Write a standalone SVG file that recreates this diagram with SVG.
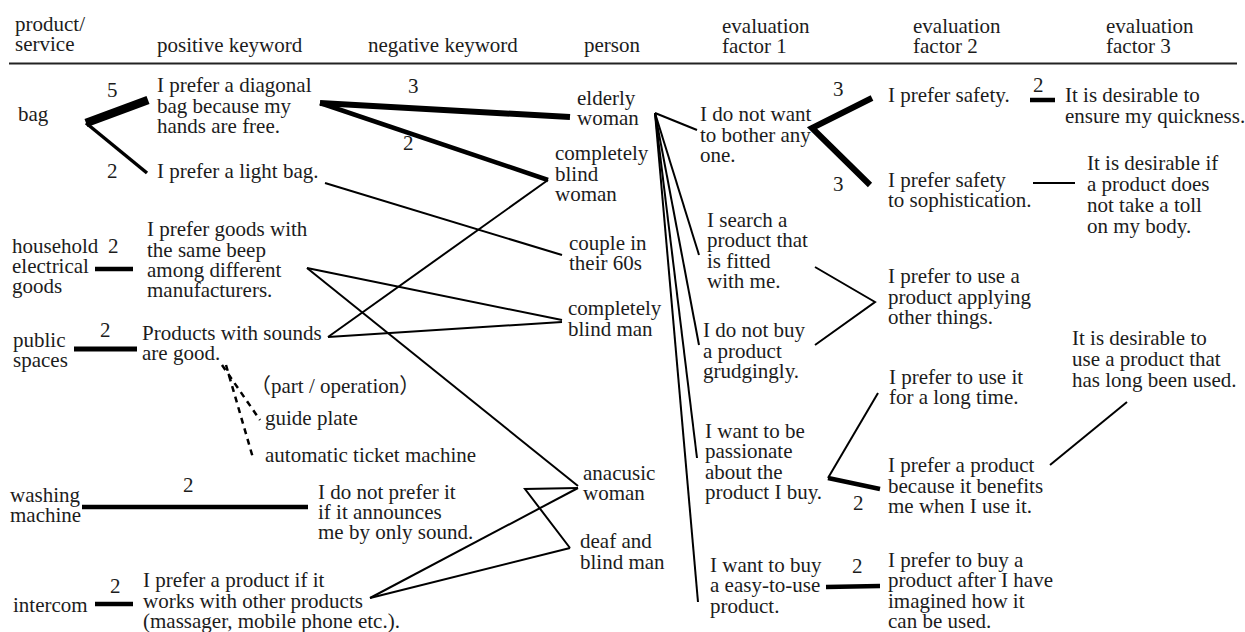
<svg xmlns="http://www.w3.org/2000/svg" width="1245" height="632" viewBox="0 0 1245 632" font-family="'Liberation Serif', serif" font-size="21">
<style>
text{font-family:'Liberation Serif',serif;font-size:21px;fill:#1c1c1c}
.cjk{font-family:'Liberation Serif','Noto Sans CJK JP',serif}
.c line,.c polyline{stroke:#000;fill:none;stroke-linecap:butt;stroke-linejoin:miter}
.w1{stroke-width:2}
.w2{stroke-width:4.5}
.w3{stroke-width:6}
.w5{stroke-width:8.5}
.d{stroke-width:2.5;stroke-dasharray:6 5}
</style>
<rect width="1245" height="632" fill="#fff"/>
<g id="header">
<text x="15" y="31">product/</text><text x="15" y="51">service</text>
<text x="157" y="52">positive keyword</text>
<text x="368" y="52">negative keyword</text>
<text x="584" y="52">person</text>
<text x="722" y="33">evaluation</text><text x="722" y="53">factor 1</text>
<text x="913" y="33">evaluation</text><text x="913" y="53">factor 2</text>
<text x="1106" y="33">evaluation</text><text x="1106" y="53">factor 3</text>
<line x1="9" y1="63.5" x2="1237" y2="63.5" stroke="#222" stroke-width="2.2"/>
</g>
<g class="c" id="connectors">
<line class="w5" x1="86" y1="123" x2="148" y2="100"/>
<line class="w2" x1="86" y1="123" x2="147" y2="173" style="stroke-width:3.5"/>
<line class="w3" x1="320" y1="103" x2="570" y2="117"/>
<line class="w2" x1="320" y1="103" x2="548" y2="180"/>
<line class="w1" x1="325" y1="183" x2="562" y2="255"/>
<line class="w2" x1="95" y1="269" x2="133" y2="269"/>
<line class="w1" x1="307" y1="268" x2="562" y2="320"/>
<line class="w1" x1="307" y1="268" x2="578" y2="486"/>
<line class="w2" x1="74" y1="349" x2="137" y2="349" style="stroke-width:5"/>
<line class="w1" x1="328" y1="337" x2="548" y2="180"/>
<line class="w1" x1="328" y1="337" x2="562" y2="322"/>
<line class="d" x1="222" y1="365" x2="260" y2="420"/>
<line class="d" x1="226" y1="365" x2="253" y2="458"/>
<line class="w2" x1="82" y1="507" x2="308" y2="507"/>
<polyline class="w1" points="578,488 525,489 570,548"/>
<line class="w1" x1="370" y1="598" x2="578" y2="488"/>
<line class="w1" x1="370" y1="598" x2="570" y2="548"/>
<line class="w2" x1="95" y1="604" x2="133" y2="604"/>
<line class="w1" x1="655" y1="113" x2="697" y2="130"/>
<line class="w1" x1="655" y1="113" x2="699" y2="255"/>
<line class="w1" x1="655" y1="113" x2="699" y2="345"/>
<line class="w1" x1="655" y1="113" x2="697" y2="458"/>
<line class="w1" x1="655" y1="113" x2="698" y2="602"/>
<polyline class="w3" points="872,98 812,128 870,185"/>
<line class="w2" x1="1030" y1="100" x2="1055" y2="100"/>
<line class="w1" x1="1033" y1="183" x2="1075" y2="183"/>
<polyline class="w1" points="815,267 875,302 815,345"/>
<line class="w1" x1="878" y1="393" x2="828" y2="478"/>
<line class="w2" x1="828" y1="478" x2="880" y2="489"/>
<line class="w1" x1="1050" y1="465" x2="1127" y2="402"/>
<line class="w2" x1="826" y1="587" x2="880" y2="586"/>
</g>
<g id="labels">
<text x="107" y="97">5</text>
<text x="107" y="178">2</text>
<text x="408" y="93">3</text>
<text x="403" y="150">2</text>
<text x="108" y="253">2</text>
<text x="100" y="337">2</text>
<text x="183" y="492">2</text>
<text x="110" y="593">2</text>
<text x="833" y="96">3</text>
<text x="833" y="191">3</text>
<text x="1033" y="92">2</text>
<text x="853" y="510">2</text>
<text x="852" y="573">2</text>
</g>
<g id="n-bag"><text x="18" y="121">bag</text></g>
<g id="n-household"><text x="12" y="253">household</text><text x="12" y="273">electrical</text><text x="12" y="293">goods</text></g>
<g id="n-public"><text x="13" y="347">public</text><text x="13" y="367">spaces</text></g>
<g id="n-washing"><text x="10" y="502">washing</text><text x="10" y="522">machine</text></g>
<g id="n-intercom"><text x="13" y="612">intercom</text></g>
<g id="n-diagonal"><text x="157" y="92">I prefer a diagonal</text><text x="157" y="113">bag because my</text><text x="157" y="133">hands are free.</text></g>
<g id="n-light"><text x="157" y="178">I prefer a light bag.</text></g>
<g id="n-beep"><text x="147" y="236">I prefer goods with</text><text x="147" y="257">the same beep</text><text x="147" y="277">among different</text><text x="147" y="297">manufacturers.</text></g>
<g id="n-sounds"><text x="142" y="340">Products with sounds</text><text x="142" y="360">are good.</text></g>
<g id="n-part"><text class="cjk" x="250" y="393">（part / operation）</text></g>
<g id="n-guide"><text x="265" y="425">guide plate</text></g>
<g id="n-ticket"><text x="265" y="462">automatic ticket machine</text></g>
<g id="n-notprefer"><text x="318" y="499">I do not prefer it</text><text x="318" y="519">if it announces</text><text x="318" y="539">me by only sound.</text></g>
<g id="n-works"><text x="143" y="587">I prefer a product if it</text><text x="143" y="608">works with other products</text><text x="143" y="628">(massager, mobile phone etc.).</text></g>
<g id="n-elderly"><text x="577" y="105">elderly</text><text x="577" y="125">woman</text></g>
<g id="n-cbw"><text x="555" y="160">completely</text><text x="555" y="181">blind</text><text x="555" y="201">woman</text></g>
<g id="n-couple"><text x="569" y="250">couple in</text><text x="569" y="270">their 60s</text></g>
<g id="n-cbm"><text x="568" y="315">completely</text><text x="568" y="336">blind man</text></g>
<g id="n-anacusic"><text x="583" y="480">anacusic</text><text x="583" y="500">woman</text></g>
<g id="n-deaf"><text x="580" y="548">deaf and</text><text x="580" y="569">blind man</text></g>
<g id="n-bother"><text x="700" y="121">I do not want</text><text x="700" y="141.5">to bother any</text><text x="700" y="162">one.</text></g>
<g id="n-search"><text x="707" y="227">I search a</text><text x="707" y="247">product that</text><text x="707" y="268">is fitted</text><text x="707" y="288">with me.</text></g>
<g id="n-grudg"><text x="703" y="337">I do not buy</text><text x="703" y="358">a product</text><text x="703" y="378">grudgingly.</text></g>
<g id="n-passion"><text x="705" y="438">I want to be</text><text x="705" y="458">passionate</text><text x="705" y="479">about the</text><text x="705" y="499">product I buy.</text></g>
<g id="n-easy"><text x="710" y="572">I want to buy</text><text x="710" y="592">a easy-to-use</text><text x="710" y="613">product.</text></g>
<g id="n-safety"><text x="888" y="102">I prefer safety.</text></g>
<g id="n-soph"><text x="888" y="187">I prefer safety</text><text x="888" y="207">to sophistication.</text></g>
<g id="n-applying"><text x="888" y="283">I prefer to use a</text><text x="888" y="304">product applying</text><text x="888" y="324">other things.</text></g>
<g id="n-longtime"><text x="889" y="384">I prefer to use it</text><text x="889" y="404">for a long time.</text></g>
<g id="n-benefits"><text x="888" y="472">I prefer a product</text><text x="888" y="493">because it benefits</text><text x="888" y="513">me when I use it.</text></g>
<g id="n-imagined"><text x="888" y="567">I prefer to buy a</text><text x="888" y="587">product after I have</text><text x="888" y="608">imagined how it</text><text x="888" y="628">can be used.</text></g>
<g id="n-quick"><text x="1065" y="102">It is desirable to</text><text x="1065" y="123">ensure my quickness.</text></g>
<g id="n-toll"><text x="1087" y="170">It is desirable if</text><text x="1087" y="191">a product does</text><text x="1087" y="212">not take a toll</text><text x="1087" y="233">on my body.</text></g>
<g id="n-longused"><text x="1072" y="345">It is desirable to</text><text x="1072" y="366">use a product that</text><text x="1072" y="387">has long been used.</text></g>
</svg>
